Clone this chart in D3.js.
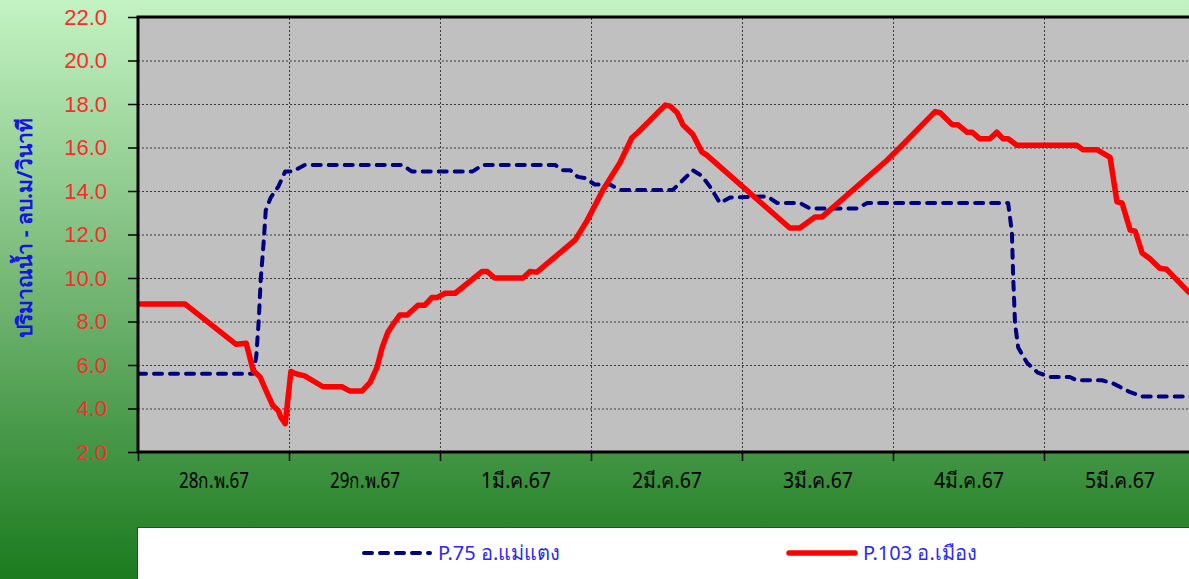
<!DOCTYPE html>
<html>
<head>
<meta charset="utf-8">
<script src="https://cdn.jsdelivr.net/npm/d3@7"></script>
<style>
  body { margin: 0; overflow: hidden; }
  svg { display: block; }
</style>
</head>
<body>
<svg id="chart"></svg>
<script>
// hours counted from 28 ก.พ. 67 00:00
var dayLabels = ["28ก.พ.67", "29ก.พ.67", "1มี.ค.67", "2มี.ค.67", "3มี.ค.67", "4มี.ค.67", "5มี.ค.67"];
var yTicks = [2, 4, 6, 8, 10, 12, 14, 16, 18, 20, 22];

var p75Hours = [0, 18.3, 18.8, 19.2, 19.5, 20.0, 20.3, 21.1, 22.3, 23.4, 24.6, 26.5, 42.0, 43.5, 53.2, 54.8,
  66.3, 67.5, 68.7, 69.9, 71.0, 72.6, 75.0, 76.6, 85.0, 88.2, 89.6, 90.9, 92.5, 94.1, 100.0, 101.6,
  105.2, 106.8, 114.3, 115.9, 138.3, 138.9, 139.1, 139.4, 139.9, 141.3, 143.0, 145.0, 148.1, 149.2,
  153.2, 155.0, 157.7, 159.7, 168];
var p75Flow = [5.6, 5.6, 6.4, 8.1, 9.9, 11.75, 13.1, 13.7, 14.2, 14.9, 14.9, 15.2, 15.2, 14.9, 14.9, 15.2,
  15.2, 14.95, 14.95, 14.65, 14.6, 14.3, 14.3, 14.05, 14.05, 14.95, 14.7, 14.2, 13.45, 13.7, 13.75, 13.45,
  13.45, 13.2, 13.2, 13.45, 13.45, 12.1, 10.05, 7.9, 6.8, 6.1, 5.65, 5.45, 5.45, 5.3,
  5.3, 5.15, 4.75, 4.55, 4.55];

var p103Hours = [0, 7.5, 15.6, 17.2, 18.3, 19.4, 20.3, 21.4, 22.3, 22.7, 23.4, 24.3, 25.1, 25.7, 26.5, 29.4,
  32.4, 33.7, 35.6, 36.9, 38.0, 38.8, 39.7, 40.5, 41.6, 42.8, 44.5, 45.6, 46.7, 47.5, 48.8, 50.4, 51.5,
  54.7, 55.5, 56.7, 61.2, 62.3, 63.4, 69.5, 71.4, 73.9, 76.6, 78.5, 79.5, 83.8, 84.6, 85.7, 86.6, 88.2,
  89.6, 90.4, 103.6, 105.2, 107.6, 108.7, 119.0, 121.1, 126.7, 127.5, 129.4, 130.3, 131.8, 132.6, 133.8,
  135.4, 136.5, 137.5, 138.3, 139.7, 149.2, 150.2, 152.4, 154.5, 155.6, 156.4, 157.7, 158.5, 159.6,
  160.8, 162.4, 163.5, 167.0, 168];
var p103Flow = [8.8, 8.8, 6.95, 7.0, 5.75, 5.45, 4.85, 4.15, 3.9, 3.6, 3.3, 5.7, 5.6, 5.55, 5.5, 5.0,
  5.0, 4.8, 4.8, 5.2, 5.9, 6.8, 7.5, 7.85, 8.3, 8.3, 8.75, 8.75, 9.1, 9.1, 9.3, 9.3, 9.55,
  10.3, 10.3, 10.0, 10.0, 10.3, 10.27, 11.75, 12.65, 14.05, 15.3, 16.45, 16.7, 17.95, 17.9, 17.6, 17.05, 16.6,
  15.8, 15.65, 12.3, 12.3, 12.8, 12.8, 15.4, 16.0, 17.65, 17.6, 17.05, 17.05, 16.7, 16.7, 16.4,
  16.4, 16.7, 16.4, 16.4, 16.1, 16.1, 15.9, 15.9, 15.55, 13.5, 13.45, 12.2, 12.15, 11.15,
  10.9, 10.45, 10.4, 9.35, 9.2];

var width = 1189;
var height = 579;
var plot = {left: 138, top: 17, right: 1195, bottom: 452};

var svg = d3.select("#chart")
    .attr("width", width)
    .attr("height", height);

// background gradient
var grad = svg.append("defs").append("linearGradient")
    .attr("id", "bg")
    .attr("x1", 0).attr("y1", 0).attr("x2", 0).attr("y2", 1);
grad.append("stop").attr("offset", "0%").attr("stop-color", "#c3f3c3");
grad.append("stop").attr("offset", "45%").attr("stop-color", "#7cbc7c");
grad.append("stop").attr("offset", "100%").attr("stop-color", "#1b7b1e");

svg.append("rect")
    .attr("width", width)
    .attr("height", height)
    .attr("fill", "url(#bg)");

var xScale = d3.scaleLinear()
    .domain([0, 168])
    .range([plot.left, plot.right]);

var yScale = d3.scaleLinear()
    .domain([2, 22])
    .range([plot.bottom, plot.top]);

svg.append("rect")
    .attr("x", plot.left)
    .attr("y", plot.top)
    .attr("width", plot.right - plot.left)
    .attr("height", plot.bottom - plot.top)
    .attr("fill", "#c0c0c0");

// gridlines
var yGrid = d3.axisLeft(yScale)
    .tickValues(yTicks)
    .tickSize(-(plot.right - plot.left))
    .tickFormat("");
svg.append("g")
    .attr("class", "grid")
    .attr("transform", "translate(" + plot.left + ",0)")
    .call(yGrid);

var dayStarts = dayLabels.map((d, i) => i * 24);
var xGrid = d3.axisBottom(xScale)
    .tickValues(dayStarts.slice(1))
    .tickSize(-(plot.bottom - plot.top))
    .tickFormat("");
svg.append("g")
    .attr("class", "grid")
    .attr("transform", "translate(0," + plot.bottom + ")")
    .call(xGrid);

svg.selectAll(".grid .domain").remove();
svg.selectAll(".grid line")
    .attr("stroke", "#3a3a3a")
    .attr("stroke-width", 1)
    .attr("stroke-dasharray", "2,2");

// lines
var p75 = p75Hours.map((h, i) => ({h: h, v: p75Flow[i]}));
var p103 = p103Hours.map((h, i) => ({h: h, v: p103Flow[i]}));

var line = d3.line()
    .x(d => xScale(d.h))
    .y(d => yScale(d.v));

svg.append("clipPath").attr("id", "clip")
  .append("rect")
    .attr("x", plot.left)
    .attr("y", plot.top)
    .attr("width", plot.right - plot.left)
    .attr("height", plot.bottom - plot.top);

svg.append("path")
    .datum(p75)
    .attr("clip-path", "url(#clip)")
    .attr("d", line)
    .attr("fill", "none")
    .attr("stroke", "#000080")
    .attr("stroke-width", 4)
    .attr("stroke-linejoin", "round")
    .attr("stroke-linecap", "round")
    .attr("stroke-dasharray", "8,8");

svg.append("path")
    .datum(p103)
    .attr("clip-path", "url(#clip)")
    .attr("d", line)
    .attr("fill", "none")
    .attr("stroke", "#ff0000")
    .attr("stroke-width", 5.5)
    .attr("stroke-linejoin", "round")
    .attr("stroke-linecap", "round");

// axes
var yAxis = d3.axisLeft(yScale)
    .tickValues(yTicks)
    .tickSize(10)
    .tickPadding(21)
    .tickFormat(d3.format(".1f"));
var gy = svg.append("g")
    .attr("transform", "translate(" + plot.left + ",0)")
    .call(yAxis);
gy.select(".domain").remove();
gy.selectAll("line").attr("stroke", "#000").attr("stroke-width", 1.5);
gy.selectAll("text")
    .attr("fill", "#ff2a2a")
    .attr("font-family", "Liberation Sans, Arial, sans-serif")
    .attr("font-size", 22);

var xAxis = d3.axisBottom(xScale)
    .tickValues(dayStarts)
    .tickSize(9)
    .tickFormat("");
var gx = svg.append("g")
    .attr("transform", "translate(0," + plot.bottom + ")")
    .call(xAxis);
gx.select(".domain").remove();
gx.selectAll("line").attr("stroke", "#000").attr("stroke-width", 1.5);

var xLabels = d3.axisBottom(xScale)
    .tickValues(dayStarts.map(d => d + 12))
    .tickSize(0)
    .tickPadding(21)
    .tickFormat((d, i) => dayLabels[i]);
var gl = svg.append("g")
    .attr("transform", "translate(0," + plot.bottom + ")")
    .call(xLabels);
gl.select(".domain").remove();
gl.selectAll("text")
    .attr("fill", "#000")
    .attr("font-family", "Noto Sans, DejaVu Sans, sans-serif")
    .attr("font-size", 21)
    .attr("textLength", 70)
    .attr("lengthAdjust", "spacingAndGlyphs");

// plot frame
svg.append("path")
    .attr("d", "M" + plot.right + "," + plot.top + "H" + plot.left + "V" + plot.bottom + "H" + plot.right)
    .attr("fill", "none")
    .attr("stroke", "#000")
    .attr("stroke-width", 3);

// y title
svg.append("text")
    .attr("transform", "translate(32,228) rotate(-90)")
    .attr("text-anchor", "middle")
    .attr("fill", "#1414e6")
    .attr("font-family", "Noto Sans, DejaVu Sans, sans-serif")
    .attr("font-weight", "bold")
    .attr("font-size", 21)
    .text("ปริมาณน้ำ - ลบ.ม/วินาที");

// legend
svg.append("rect")
    .attr("x", 137.5)
    .attr("y", 527.5)
    .attr("width", 1100)
    .attr("height", 100)
    .attr("fill", "#fff")
    .attr("stroke", "#404040")
    .attr("stroke-width", 1);

var legendItems = [
  {name: "P.75 อ.แม่แตง", x: 362, color: "#000080", dash: "8,8", w: 4},
  {name: "P.103 อ.เมือง", x: 787, color: "#ff0000", dash: null, w: 5.5}
];
var lg = svg.selectAll(".legend")
    .data(legendItems)
  .enter().append("g")
    .attr("transform", d => "translate(" + d.x + ",553)");
lg.append("line")
    .attr("x1", 2).attr("x2", 68)
    .attr("stroke", d => d.color)
    .attr("stroke-width", d => d.w)
    .attr("stroke-linecap", "round")
    .attr("stroke-dasharray", d => d.dash);
lg.append("text")
    .attr("x", 76)
    .attr("dy", "0.35em")
    .attr("fill", "#2a2af0")
    .attr("font-family", "Noto Sans, DejaVu Sans, sans-serif")
    .attr("font-size", 20)
    .text(d => d.name);
</script>
</body>
</html>
